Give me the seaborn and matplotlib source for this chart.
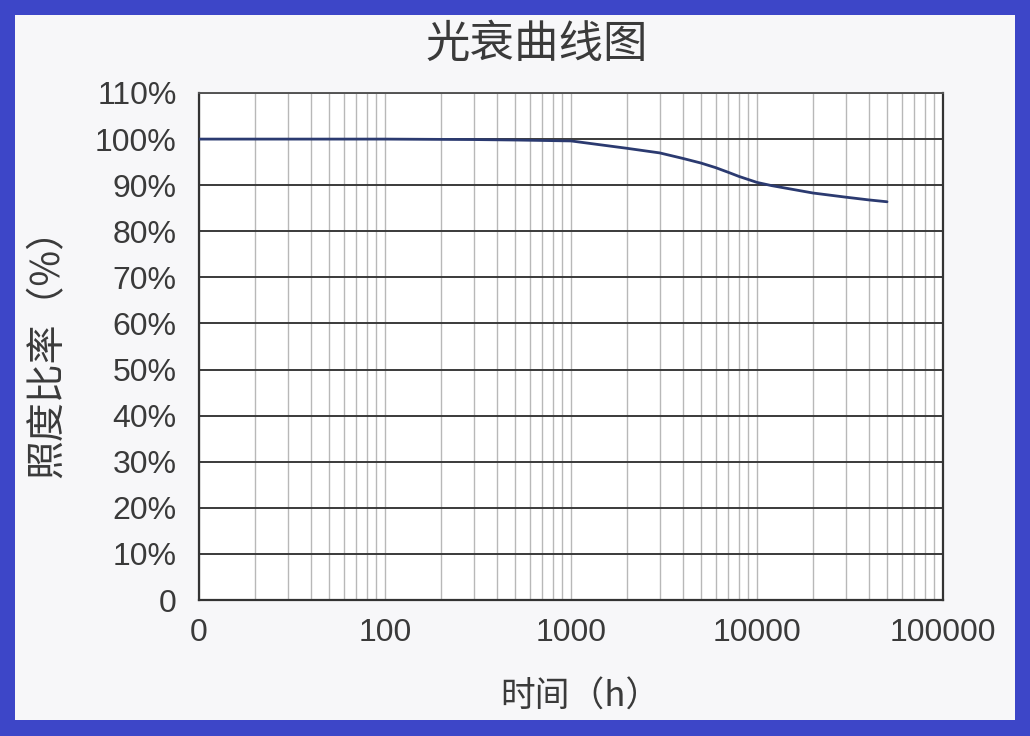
import matplotlib
matplotlib.use("Agg")
import matplotlib.pyplot as plt
import matplotlib.patches as mpatches
from matplotlib.ticker import LogLocator, NullFormatter
import seaborn as sns

# light decay readings
hours = [10, 100, 300, 500, 1000, 2000, 3000, 4000, 5000, 6000, 7000,
         8000, 10000, 12000, 20000, 30000, 40000, 50000]
ratio = [100.0, 100.0, 99.9, 99.8, 99.6, 98.0, 97.0, 95.8, 94.8, 93.8, 92.8,
         91.9, 90.6, 89.9, 88.3, 87.4, 86.8, 86.4]

y_ticks = [0, 10, 20, 30, 40, 50, 60, 70, 80, 90, 100, 110]
y_labels = ["0", "10%", "20%", "30%", "40%", "50%", "60%", "70%", "80%",
            "90%", "100%", "110%"]
x_ticks = [10, 100, 1000, 10000, 100000]
x_labels = ["0", "100", "1000", "10000", "100000"]

TITLE = "光衰曲线图"
XLABEL = "时间（h）"
YLABEL = "照度比率（%）"

BORDER = "#3d46c8"
PANEL = "#f7f7f9"
LINE = "#2b3a70"
TEXT = "#3a3a3a"
NUM_FONT = ["Liberation Sans", "DejaVu Sans"]
CJK_FONT = ["Noto Sans CJK SC", "DejaVu Sans"]

sns.set_theme(style="white")
plt.rcParams["font.family"] = CJK_FONT

fig = plt.figure(figsize=(10.3, 7.36), dpi=100, facecolor=BORDER)
# inner light panel inside the blue frame
fig.patches.append(mpatches.Rectangle((15 / 1030, 16 / 736), 1000 / 1030, 705 / 736,
                                      transform=fig.transFigure, facecolor=PANEL,
                                      edgecolor="none", zorder=-10))

ax = fig.add_axes([199 / 1030, 136 / 736, 744 / 1030, 507 / 736])
ax.set_facecolor("white")

sns.lineplot(x=hours, y=ratio, ax=ax, color=LINE, linewidth=2.0, zorder=5)

ax.set_xscale("log")
ax.set_xlim(10, 100000)
ax.set_ylim(0, 110)

ax.set_xticks(x_ticks)
ax.set_xticklabels(x_labels, family=NUM_FONT, fontsize=23, color=TEXT)
ax.xaxis.set_minor_locator(LogLocator(base=10, subs=range(2, 10)))
ax.xaxis.set_minor_formatter(NullFormatter())
ax.set_yticks(y_ticks)
ax.set_yticklabels(y_labels, family=NUM_FONT, fontsize=23, color=TEXT)

ax.tick_params(axis="x", which="major", direction="in", length=4, width=1.2,
               color="#333333", pad=13)
ax.tick_params(axis="x", which="minor", length=0)
ax.tick_params(axis="y", direction="in", length=4, width=1.2,
               color="#333333", pad=16)

# gridlines: vertical light gray, horizontal dark
ax.grid(True, axis="x", which="both", color="#b8b8b8", linewidth=1.0)
ax.grid(True, axis="y", which="major", color="#3a3a3a", linewidth=1.4)

for side in ["left", "bottom", "right"]:
    ax.spines[side].set_color("#333333")
    ax.spines[side].set_linewidth(1.6)
ax.spines["top"].set_color("#555555")
ax.spines["top"].set_linewidth(1.4)

ax.set_xlabel(XLABEL, fontsize=25, color=TEXT)
ax.set_ylabel(YLABEL, fontsize=28, color=TEXT)
ax.xaxis.set_label_coords(0.512, -0.158)
ax.yaxis.set_label_coords(-0.176, 0.506)

ax.text(0.454, 1.096, TITLE, transform=ax.transAxes, ha="center", va="center",
        fontsize=32, color=TEXT)

fig.savefig("out.png", dpi=100, facecolor=BORDER)
